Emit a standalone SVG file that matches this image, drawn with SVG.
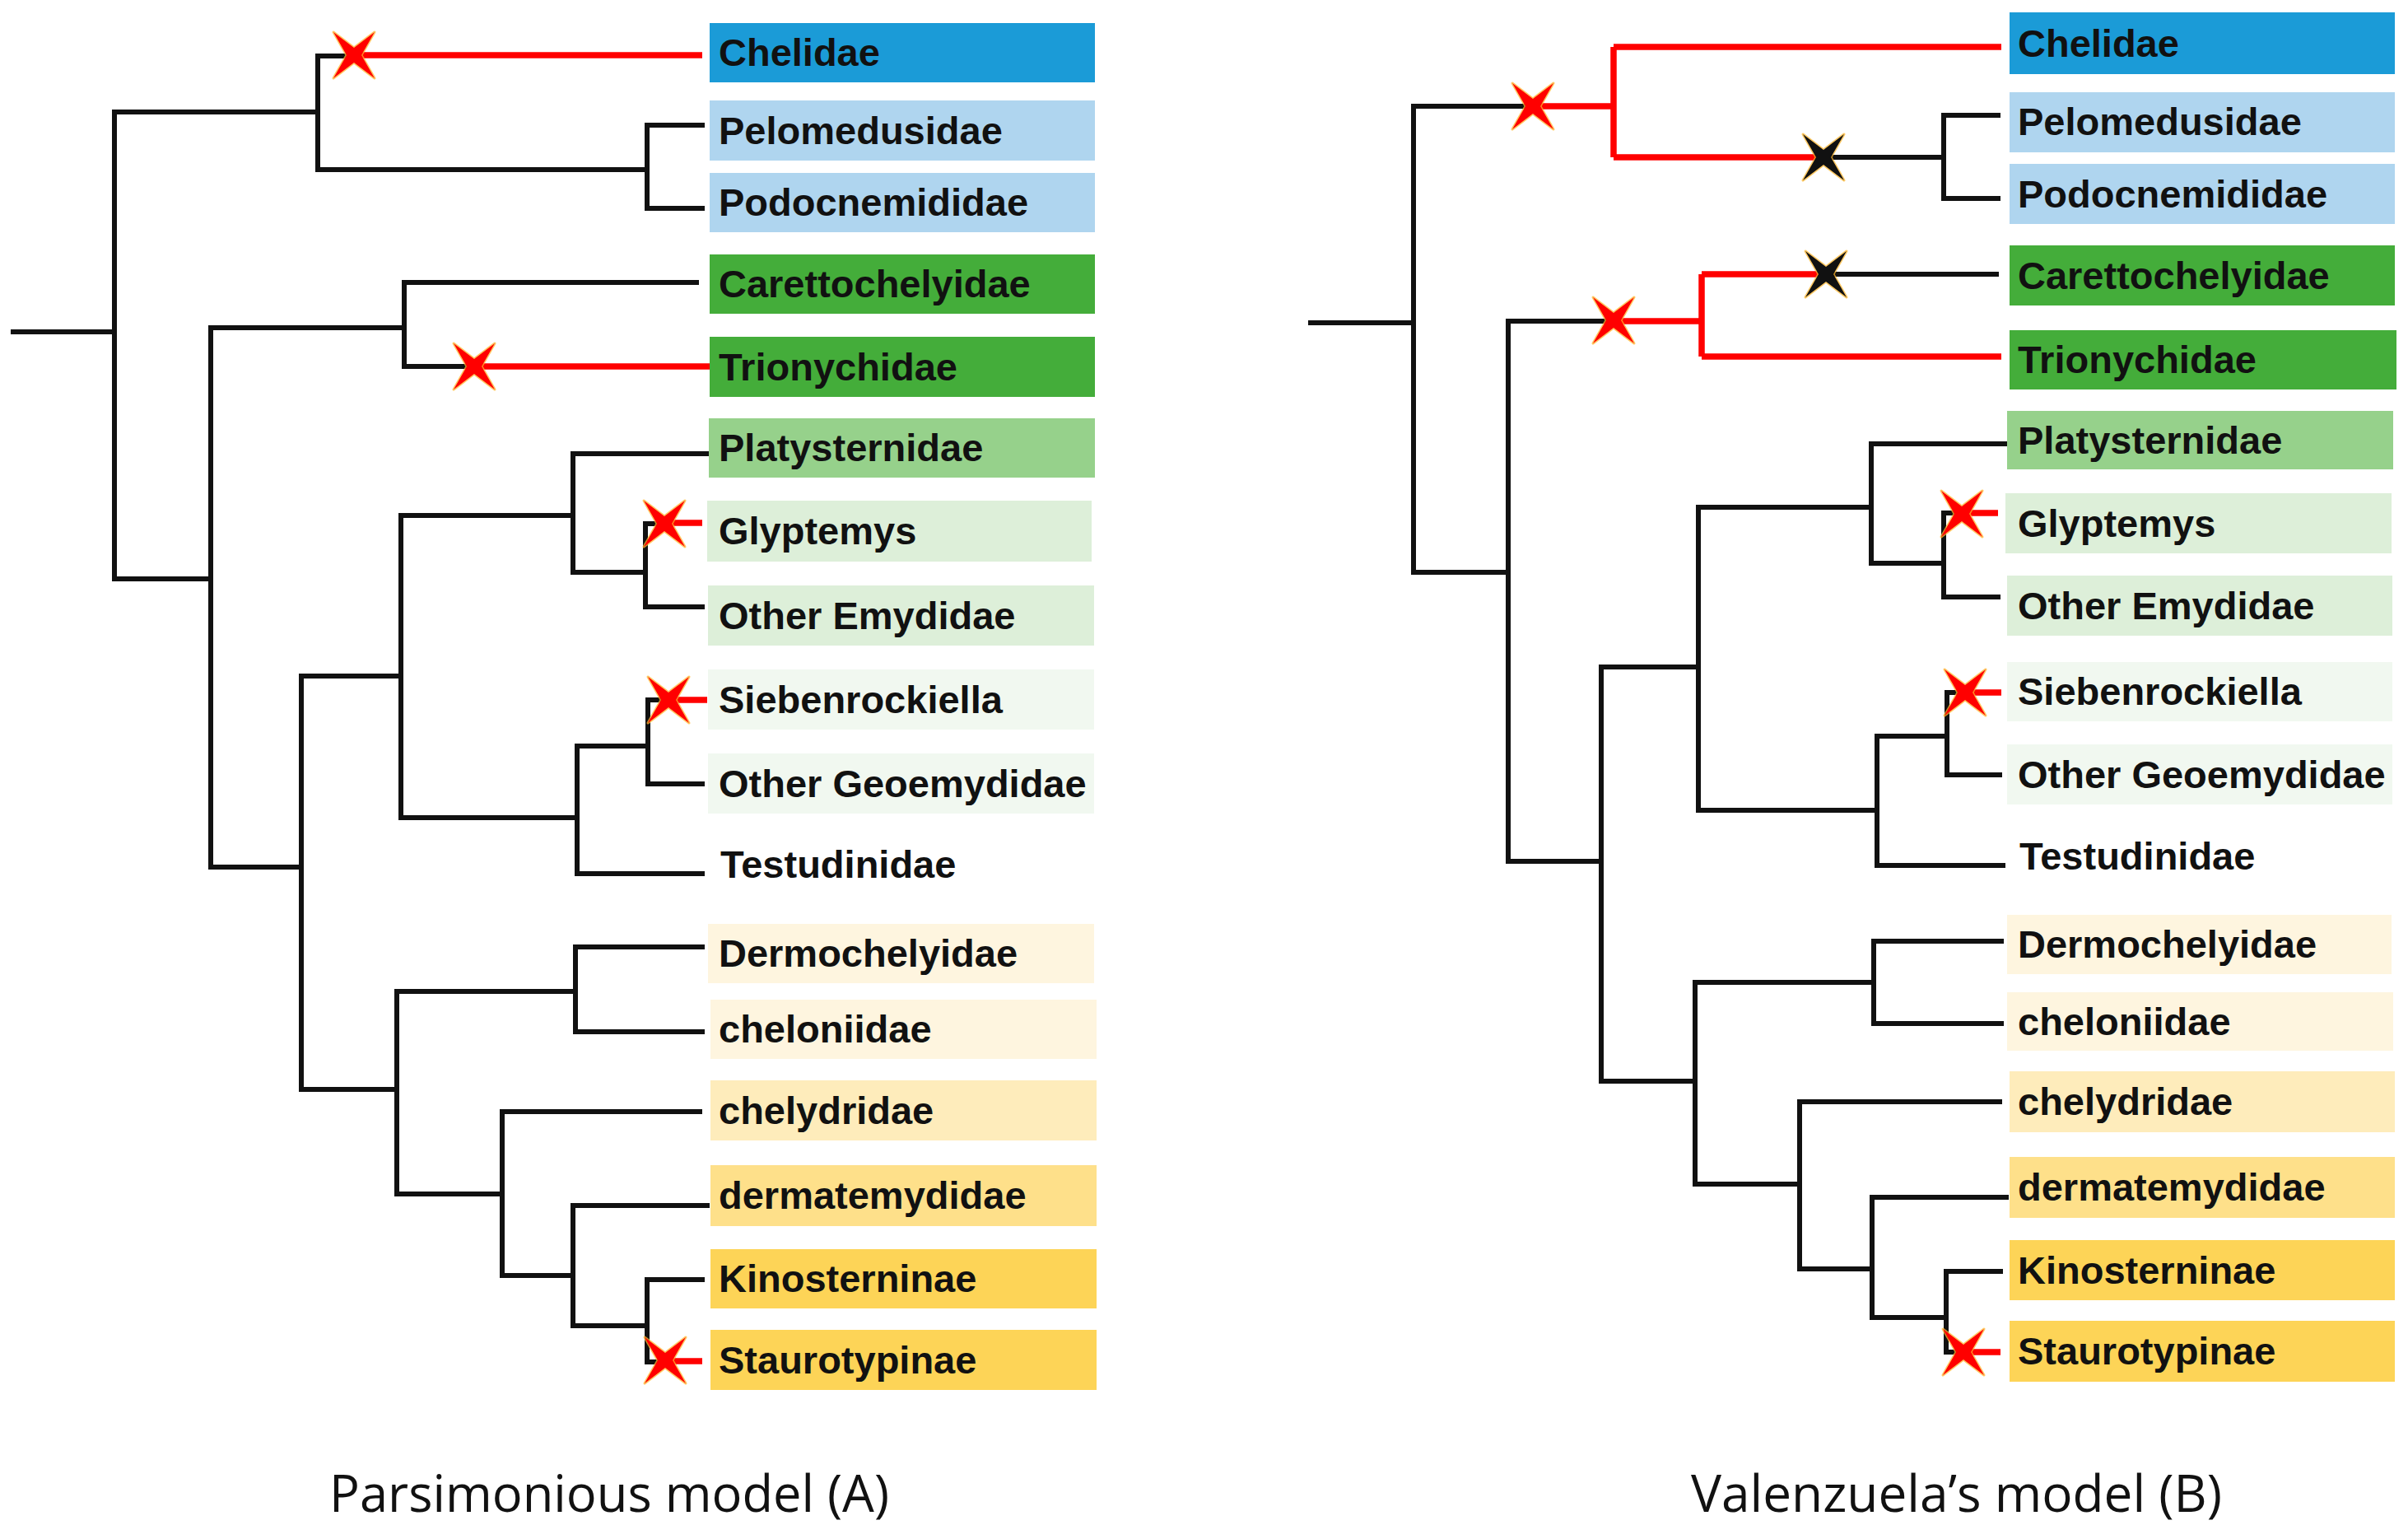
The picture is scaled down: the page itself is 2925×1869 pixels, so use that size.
<svg xmlns="http://www.w3.org/2000/svg" xmlns:xlink="http://www.w3.org/1999/xlink" width="2925" height="1869" viewBox="0 0 2925 1869">
<style>
.lab{font-family:"Liberation Sans",Arial,sans-serif;font-weight:bold;font-size:47px;fill:#111}
.ttl{font-family:"Open Sans","Noto Sans",sans-serif;font-size:62px;fill:#111}
.bk{fill:none;stroke:#111;stroke-width:6;stroke-linecap:square;stroke-linejoin:miter}
.rd{fill:none;stroke:#ff0000;stroke-width:7.5;stroke-linecap:butt;stroke-linejoin:miter}
.c1{fill:#1b9bd7}.c2{fill:#afd5ef}.c3{fill:#44ad3a}.c4{fill:#96d18b}.c5{fill:#ddefd9}.c6{fill:#f1f8f0}
.c7{fill:#fef5df}.c8{fill:#feecbb}.c9{fill:#fee08a}.c10{fill:#fdd457}
</style>
<defs>
<path id="star" d="M-25,-28 L0,-9 L25,-28 L9,0 L25,28 L0,9 L-25,28 L-9,0 Z"/>
</defs>
<rect width="2925" height="1869" fill="#ffffff"/>

<g id="connectors">
<!-- left tree -->
<path class="bk" d="M16,403 H139 M139,136 V703 M139,136 H386 M386,68 V206 M386,68 H430 M386,206 H786 M786,152 V253 M786,152 H853 M786,253 H853"/>
<path class="bk" d="M139,703 H256 M256,398 V1053 M256,398 H491 M491,343 V445 M491,343 H846 M491,445 H576"/>
<path class="bk" d="M256,1053 H366 M366,821 V1323 M366,821 H487 M487,626 V993 M487,626 H696 M696,551 V695 M696,551 H860 M696,695 H784 M784,636 V737 M784,636 H806 M784,737 H853"/>
<path class="bk" d="M487,993 H701 M701,906 V1061 M701,906 H787 M787,850 V952 M787,850 H810 M787,952 H853 M701,1061 H853"/>
<path class="bk" d="M366,1323 H482 M482,1204 V1450 M482,1204 H699 M699,1150 V1253 M699,1150 H853 M699,1253 H853"/>
<path class="bk" d="M482,1450 H610 M610,1350 V1549 M610,1350 H850 M610,1549 H696 M696,1464 V1610 M696,1464 H859 M696,1610 H786 M786,1554 V1654 M786,1554 H853 M786,1654 H808"/>
<path class="rd" d="M430,67 H853 M576,445 H862 M806,635 H853 M810,850 H859 M808,1653 H853"/>
<!-- right tree -->
<path class="bk" d="M1592,392 H1717 M1717,129 V695 M1717,129 H1862 M2216,191 H2361 M2361,140 V241 M2361,140 H2427 M2361,241 H2427"/>
<path class="rd" d="M1862,129 H1960 M1960,57 V191 M1960,57 H2431 M1960,191 H2216"/>
<path class="bk" d="M1717,695 H1832 M1832,390 V1046 M1832,390 H1960 M2218,333 H2425"/>
<path class="rd" d="M1960,390 H2067 M2067,333 V433 M2067,333 H2218 M2067,433 H2431"/>
<path class="bk" d="M1832,1046 H1945 M1945,810 V1313 M1945,810 H2063 M2063,616 V984 M2063,616 H2273 M2273,539 V684 M2273,539 H2436 M2273,684 H2361 M2361,623 V725 M2361,623 H2383 M2361,725 H2427"/>
<path class="bk" d="M2063,984 H2280 M2280,894 V1051 M2280,894 H2365 M2365,841 V941 M2365,841 H2387 M2365,941 H2429 M2280,1051 H2433"/>
<path class="bk" d="M1945,1313 H2059 M2059,1193 V1438 M2059,1193 H2276 M2276,1143 V1243 M2276,1143 H2431 M2276,1243 H2431"/>
<path class="bk" d="M2059,1438 H2186 M2186,1338 V1541 M2186,1338 H2429 M2186,1541 H2274 M2274,1454 V1600 M2274,1454 H2437 M2274,1600 H2364 M2364,1544 V1642 M2364,1544 H2430 M2364,1642 H2385"/>
<path class="rd" d="M2383,623 H2427 M2387,841 H2431 M2385,1642 H2430"/>
</g>

<g id="marks">
<g fill="#ff0000" stroke="#ffb52e" stroke-width="3" stroke-opacity="0.75" stroke-linejoin="round" paint-order="stroke">
<use xlink:href="#star" href="#star" x="430" y="67"/>
<use xlink:href="#star" href="#star" x="576" y="445"/>
<use xlink:href="#star" href="#star" x="807" y="636"/>
<use xlink:href="#star" href="#star" x="812" y="850"/>
<use xlink:href="#star" href="#star" x="808" y="1652"/>
<use xlink:href="#star" href="#star" x="1862" y="129"/>
<use xlink:href="#star" href="#star" x="1960" y="389"/>
<use xlink:href="#star" href="#star" x="2383" y="624"/>
<use xlink:href="#star" href="#star" x="2387" y="841"/>
<use xlink:href="#star" href="#star" x="2385" y="1642"/>
</g>
<g fill="#111111" stroke="#ffb52e" stroke-width="3" stroke-opacity="0.75" stroke-linejoin="round" paint-order="stroke">
<use xlink:href="#star" href="#star" x="2215" y="191"/>
<use xlink:href="#star" href="#star" x="2218" y="333"/>
</g>
</g>

<!-- left leaves -->
<g id="A-Chelidae"><rect class="c1" x="862" y="28" width="468" height="72"/><text class="lab" x="873" y="80">Chelidae</text></g>
<g id="A-Pelomedusidae"><rect class="c2" x="862" y="122" width="468" height="73"/><text class="lab" x="873" y="175">Pelomedusidae</text></g>
<g id="A-Podocnemididae"><rect class="c2" x="862" y="210" width="468" height="72"/><text class="lab" x="873" y="262">Podocnemididae</text></g>
<g id="A-Carettochelyidae"><rect class="c3" x="862" y="309" width="468" height="72"/><text class="lab" x="873" y="361">Carettochelyidae</text></g>
<g id="A-Trionychidae"><rect class="c3" x="862" y="409" width="468" height="73"/><text class="lab" x="873" y="462">Trionychidae</text></g>
<g id="A-Platysternidae"><rect class="c4" x="861" y="508" width="469" height="72"/><text class="lab" x="873" y="560">Platysternidae</text></g>
<g id="A-Glyptemys"><rect class="c5" x="859" y="608" width="467" height="74"/><text class="lab" x="873" y="661">Glyptemys</text></g>
<g id="A-OtherEmydidae"><rect class="c5" x="860" y="711" width="469" height="73"/><text class="lab" x="873" y="764">Other Emydidae</text></g>
<g id="A-Siebenrockiella"><rect class="c6" x="860" y="813" width="469" height="73"/><text class="lab" x="873" y="866">Siebenrockiella</text></g>
<g id="A-OtherGeoemydidae"><rect class="c6" x="860" y="915" width="469" height="73"/><text class="lab" x="873" y="968">Other Geoemydidae</text></g>
<g id="A-Testudinidae"><text class="lab" x="875" y="1066">Testudinidae</text></g>
<g id="A-Dermochelyidae"><rect class="c7" x="860" y="1122" width="469" height="72"/><text class="lab" x="873" y="1174">Dermochelyidae</text></g>
<g id="A-cheloniidae"><rect class="c7" x="863" y="1214" width="469" height="72"/><text class="lab" x="873" y="1266">cheloniidae</text></g>
<g id="A-chelydridae"><rect class="c8" x="863" y="1312" width="469" height="73"/><text class="lab" x="873" y="1365">chelydridae</text></g>
<g id="A-dermatemydidae"><rect class="c9" x="863" y="1415" width="469" height="74"/><text class="lab" x="873" y="1468">dermatemydidae</text></g>
<g id="A-Kinosterninae"><rect class="c10" x="863" y="1517" width="469" height="72"/><text class="lab" x="873" y="1569">Kinosterninae</text></g>
<g id="A-Staurotypinae"><rect class="c10" x="863" y="1615" width="469" height="73"/><text class="lab" x="873" y="1668">Staurotypinae</text></g>

<!-- right leaves -->
<g id="B-Chelidae"><rect class="c1" x="2441" y="15" width="468" height="75"/><text class="lab" x="2451" y="69">Chelidae</text></g>
<g id="B-Pelomedusidae"><rect class="c2" x="2441" y="112" width="468" height="73"/><text class="lab" x="2451" y="164">Pelomedusidae</text></g>
<g id="B-Podocnemididae"><rect class="c2" x="2441" y="199" width="468" height="73"/><text class="lab" x="2451" y="252">Podocnemididae</text></g>
<g id="B-Carettochelyidae"><rect class="c3" x="2441" y="298" width="468" height="73"/><text class="lab" x="2451" y="351">Carettochelyidae</text></g>
<g id="B-Trionychidae"><rect class="c3" x="2441" y="401" width="470" height="72"/><text class="lab" x="2451" y="453">Trionychidae</text></g>
<g id="B-Platysternidae"><rect class="c4" x="2438" y="499" width="469" height="71"/><text class="lab" x="2451" y="551">Platysternidae</text></g>
<g id="B-Glyptemys"><rect class="c5" x="2436" y="599" width="469" height="73"/><text class="lab" x="2451" y="652">Glyptemys</text></g>
<g id="B-OtherEmydidae"><rect class="c5" x="2438" y="699" width="468" height="73"/><text class="lab" x="2451" y="752">Other Emydidae</text></g>
<g id="B-Siebenrockiella"><rect class="c6" x="2438" y="804" width="468" height="72"/><text class="lab" x="2451" y="856">Siebenrockiella</text></g>
<g id="B-OtherGeoemydidae"><rect class="c6" x="2438" y="904" width="468" height="73"/><text class="lab" x="2451" y="957">Other Geoemydidae</text></g>
<g id="B-Testudinidae"><text class="lab" x="2453" y="1056">Testudinidae</text></g>
<g id="B-Dermochelyidae"><rect class="c7" x="2438" y="1111" width="467" height="72"/><text class="lab" x="2451" y="1163">Dermochelyidae</text></g>
<g id="B-cheloniidae"><rect class="c7" x="2438" y="1205" width="469" height="71"/><text class="lab" x="2451" y="1257">cheloniidae</text></g>
<g id="B-chelydridae"><rect class="c8" x="2441" y="1301" width="468" height="74"/><text class="lab" x="2451" y="1354">chelydridae</text></g>
<g id="B-dermatemydidae"><rect class="c9" x="2441" y="1405" width="468" height="74"/><text class="lab" x="2451" y="1458">dermatemydidae</text></g>
<g id="B-Kinosterninae"><rect class="c10" x="2441" y="1506" width="468" height="73"/><text class="lab" x="2451" y="1559">Kinosterninae</text></g>
<g id="B-Staurotypinae"><rect class="c10" x="2441" y="1604" width="468" height="74"/><text class="lab" x="2451" y="1657">Staurotypinae</text></g>

<g id="titles">
<text class="ttl" x="400" y="1836" textLength="680" lengthAdjust="spacingAndGlyphs">Parsimonious model (A)</text>
<text class="ttl" x="2054" y="1836" textLength="645" lengthAdjust="spacingAndGlyphs">Valenzuela’s model (B)</text>
</g>
</svg>
